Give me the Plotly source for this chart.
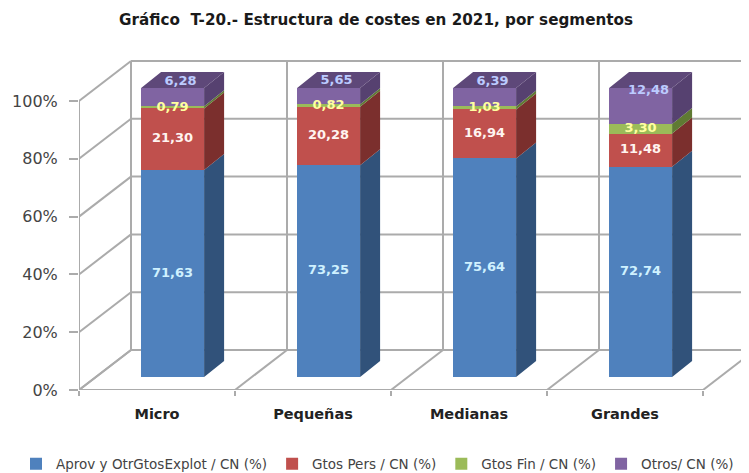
import plotly.graph_objects as go

categories = ["Micro", "Pequeñas", "Medianas", "Grandes"]
series_names = ["Aprov y OtrGtosExplot / CN (%)", "Gtos Pers / CN (%)", "Gtos Fin / CN (%)", "Otros/ CN (%)"]
aprov = [71.63, 73.25, 75.64, 72.74]
pers = [21.30, 20.28, 16.94, 11.48]
fin = [0.79, 0.82, 1.03, 3.30]
otros = [6.28, 5.65, 6.39, 12.48]
y_ticks = [0, 20, 40, 60, 80, 100]

FONT = "DejaVu Sans"
BODY = 8  # default page margin around the figure
W, H = 749 - BODY, 473 - BODY
ML, MR, MT, MB = 79 - BODY, 0, 60 - BODY, 83
PX_X = 156.0
PX_Y = 2.89
plot_w, plot_h = W - ML - MR, H - MT - MB
xmax = plot_w / PX_X
ymax = plot_h / PX_Y

wall_dx, wall_dy = 52 / PX_X, 40 / PX_Y
bar_dx, bar_dy = 20 / PX_X, 16 / PX_Y
bar_w = 63 / PX_X
bar_shift = 0.1
bar_floor = 13 / PX_Y

fronts = ["#4F81BD", "#C0504D", "#9BBB59", "#8064A2"]
sides = ["#31527A", "#7B2F2D", "#5F7A33", "#564170"]
top_col = "#5E4879"
label_cols = ["#CFF1FF", "#FFF4F0", "#FFFFA0", "#BCCBFF"]
grid_col = "#ABABAB"

series = [aprov, pers, fin, otros]
centers = [i + 0.5 + bar_shift for i in range(len(categories))]

fig = go.Figure()

bases = [[bar_floor] * len(categories)]
for s in series:
    bases.append([b + v for b, v in zip(bases[-1], s)])

for k, s in enumerate(series):
    fig.add_trace(go.Bar(x=centers, y=s, base=bases[k], width=bar_w, name=series_names[k],
                         marker=dict(color=fronts[k], line=dict(width=0)), hoverinfo="skip"))

for k, s in enumerate(series):
    xs, ys = [], []
    for c, b, v in zip(centers, bases[k], s):
        r = c + bar_w / 2
        xs += [r, r + bar_dx, r + bar_dx, r, r, None]
        ys += [b, b + bar_dy, b + v + bar_dy, b + v, b, None]
    fig.add_trace(go.Scatter(x=xs, y=ys, mode="lines", fill="toself", fillcolor=sides[k],
                             line=dict(width=0), showlegend=False, hoverinfo="skip"))

xs, ys = [], []
for c, t in zip(centers, bases[-1]):
    l, r = c - bar_w / 2, c + bar_w / 2
    xs += [l, r, r + bar_dx, l + bar_dx, l, None]
    ys += [t, t, t + bar_dy, t + bar_dy, t, None]
fig.add_trace(go.Scatter(x=xs, y=ys, mode="lines", fill="toself", fillcolor=top_col,
                         line=dict(width=0), showlegend=False, hoverinfo="skip"))

# value labels: the top series sits up and to the right, as in the source chart
for k, s in enumerate(series):
    last = k == len(series) - 1
    lx = [c + (8 / PX_X if last else 0) for c in centers]
    ly = [b + v / 2 + (15 / PX_Y if last else 0) for b, v in zip(bases[k], s)]
    fig.add_trace(go.Scatter(x=lx, y=ly, mode="text", text=[f"{v:.2f}".replace(".", ",") for v in s],
                             textposition="middle center",
                             textfont=dict(family=FONT, size=13, color=label_cols[k], weight="bold"),
                             showlegend=False, hoverinfo="skip"))

shapes = []
def seg(x0, y0, x1, y1):
    shapes.append(dict(type="line", xref="x", yref="y", x0=x0, y0=y0, x1=x1, y1=y1, layer="below",
                       line=dict(color=grid_col, width=2)))

n = len(categories)
for t in y_ticks:
    seg(0, t, wall_dx, t + wall_dy)
    seg(wall_dx, t + wall_dy, n + wall_dx, t + wall_dy)
for i in range(n + 1):
    seg(i + wall_dx, wall_dy, i + wall_dx, y_ticks[-1] + wall_dy)
    seg(i, 0, i + wall_dx, wall_dy)
seg(0, 0, n, 0)
seg(0, 0, 0, y_ticks[-1])

fig.update_layout(
    width=W, height=H, autosize=False,
    margin=dict(l=ML, r=MR, t=MT, b=MB, autoexpand=False),
    paper_bgcolor="white", plot_bgcolor="white",
    barmode="overlay", bargap=0, shapes=shapes,
    title=dict(text="Gráfico  T-20.- Estructura de costes en 2021, por segmentos", x=(376 - BODY) / W, xanchor="center",
               y=1 - (20 - BODY) / H, yanchor="middle", font=dict(family=FONT, size=15.2, color="#1A1A1A", weight="bold")),
    xaxis=dict(range=[0, xmax], tickmode="array", tickvals=[i + 0.5 for i in range(n)], ticktext=categories,
               showgrid=False, zeroline=False, showline=False, ticks="", ticklen=0, ticklabelstandoff=13,
               tickfont=dict(family=FONT, size=14.5, color="#222222", weight="bold"),
               minor=dict(tickmode="array", tickvals=list(range(n + 1)), ticks="outside", ticklen=5,
                          tickcolor=grid_col, tickwidth=2, showgrid=False)),
    yaxis=dict(range=[0, ymax], tickmode="array", tickvals=y_ticks, ticktext=[f"{t}%" for t in y_ticks],
               showgrid=False, zeroline=False, showline=False, ticks="outside", ticklen=9, ticklabelstandoff=8,
               tickcolor=grid_col, tickwidth=2,
               tickfont=dict(family=FONT, size=16, color="#444444")),
    legend=dict(orientation="h", x=(16 - 79) / plot_w, xanchor="left",
                y=-(464 - 390) / plot_h, yanchor="middle", traceorder="normal",
                font=dict(family=FONT, size=13.5, color="#444444"), itemwidth=30, bgcolor="rgba(0,0,0,0)"),
)
fig.write_html("out.html")
